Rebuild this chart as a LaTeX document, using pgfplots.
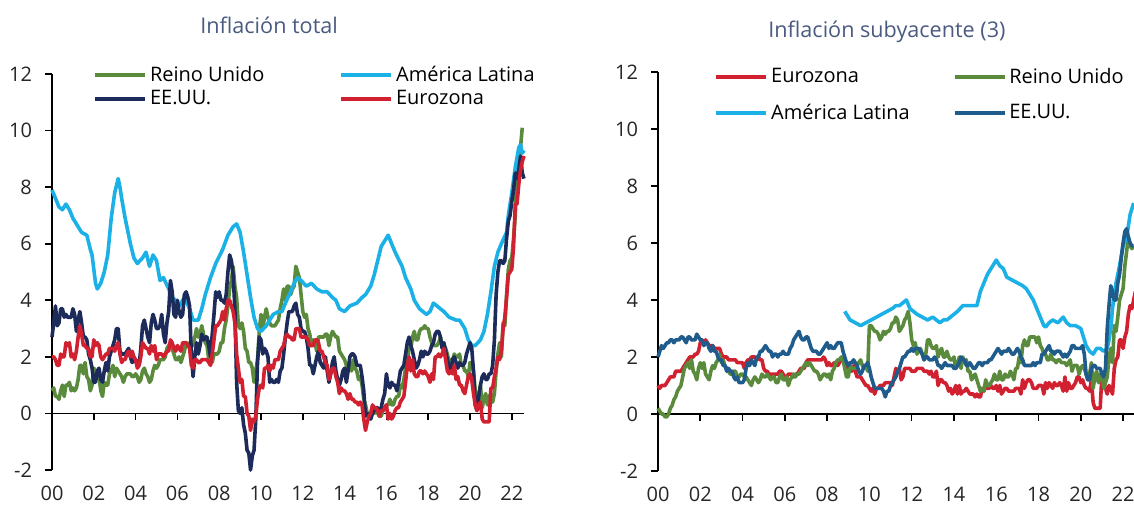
\documentclass[border=0pt]{standalone}
\usepackage{fontspec}
\setmainfont{Open Sans}
\usepackage{pgfplots}
\usepackage{pgfplotstable}
\pgfplotsset{compat=1.18}

\definecolor{cuk}{HTML}{5A8A3C}
\definecolor{cla}{HTML}{1BB0E6}
\definecolor{cusl}{HTML}{1C2B5A}
\definecolor{cusr}{HTML}{1F5B8B}
\definecolor{cez}{HTML}{D12030}
\definecolor{ctitle}{HTML}{4A5A80}

% inflacion total, m = meses desde ene-2000
\pgfplotstableread[row sep=\\]{
m uk us ez\\
0 0.8 2.7 2.0\\ 1 0.9 3.2 2.0\\ 2 0.6 3.8 1.9\\ 3 0.6 3.1 1.7\\ 4 0.5 3.2 1.7\\ 5 0.8 3.7 2.1\\ 6 1.0 3.7 2.0\\ 7 0.6 3.4 2.0\\ 8 1.0 3.5 2.5\\ 9 1.0 3.4 2.4\\ 10 1.1 3.4 2.5\\ 11 0.8 3.4 2.0\\
12 0.9 3.7 2.1\\ 13 0.8 3.5 1.9\\ 14 0.9 2.9 2.2\\ 15 1.2 3.3 2.7\\ 16 1.7 3.6 3.1\\ 17 1.7 3.2 2.8\\ 18 1.4 2.7 2.4\\ 19 1.8 2.7 2.4\\ 20 1.3 2.6 2.3\\ 21 1.2 2.1 2.3\\ 22 0.8 1.9 2.0\\ 23 1.0 1.6 2.0\\
24 1.6 1.1 2.6\\ 25 1.5 1.1 2.4\\ 26 1.5 1.5 2.5\\ 27 1.3 1.6 2.4\\ 28 0.8 1.2 2.0\\ 29 0.6 1.1 1.9\\ 30 1.1 1.5 2.0\\ 31 1.0 1.8 2.1\\ 32 1.0 1.5 2.1\\ 33 1.4 2.0 2.3\\ 34 1.5 2.2 2.3\\ 35 1.7 2.4 2.3\\
36 1.3 2.6 2.2\\ 37 1.6 3.0 2.4\\ 38 1.5 3.0 2.5\\ 39 1.4 2.2 2.1\\ 40 1.3 2.1 1.8\\ 41 1.1 2.1 1.9\\ 42 1.3 2.1 1.9\\ 43 1.4 2.2 2.1\\ 44 1.4 2.3 2.2\\ 45 1.4 2.0 2.0\\ 46 1.3 1.8 2.2\\ 47 1.3 1.9 2.0\\
48 1.4 1.9 1.9\\ 49 1.3 1.7 1.6\\ 50 1.1 1.7 1.7\\ 51 1.2 2.3 2.0\\ 52 1.5 3.1 2.5\\ 53 1.6 3.3 2.4\\ 54 1.4 3.0 2.3\\ 55 1.3 2.7 2.3\\ 56 1.1 2.5 2.1\\ 57 1.2 3.2 2.4\\ 58 1.5 3.5 2.2\\ 59 1.7 3.3 2.4\\
60 1.6 3.0 1.9\\ 61 1.7 3.0 2.1\\ 62 1.9 3.1 2.1\\ 63 1.9 3.5 2.1\\ 64 1.9 2.8 2.0\\ 65 2.0 2.5 2.1\\ 66 2.3 3.2 2.2\\ 67 2.4 3.6 2.2\\ 68 2.5 4.7 2.6\\ 69 2.3 4.3 2.5\\ 70 2.1 3.5 2.3\\ 71 1.9 3.4 2.2\\
72 1.9 4.0 2.4\\ 73 2.0 3.6 2.3\\ 74 1.8 3.4 2.2\\ 75 2.0 3.5 2.5\\ 76 2.2 4.2 2.5\\ 77 2.5 4.3 2.5\\ 78 2.4 4.1 2.4\\ 79 2.5 3.8 2.3\\ 80 2.4 2.1 1.7\\ 81 2.4 1.3 1.6\\ 82 2.7 2.0 1.9\\ 83 3.0 2.5 1.9\\
84 2.7 2.1 1.8\\ 85 2.8 2.4 1.8\\ 86 3.1 2.8 1.9\\ 87 2.8 2.6 1.9\\ 88 2.5 2.7 1.9\\ 89 2.4 2.7 1.9\\ 90 1.9 2.4 1.8\\ 91 1.8 2.0 1.7\\ 92 1.8 2.8 2.1\\ 93 2.1 3.5 2.6\\ 94 2.1 4.3 3.1\\ 95 2.1 4.1 3.1\\
96 2.2 4.3 3.2\\ 97 2.5 4.0 3.3\\ 98 2.5 4.0 3.6\\ 99 3.0 3.9 3.3\\ 100 3.3 4.2 3.7\\ 101 3.8 5.0 4.0\\ 102 4.4 5.6 4.0\\ 103 4.7 5.4 3.8\\ 104 5.2 4.9 3.6\\ 105 4.5 3.7 3.2\\ 106 4.1 1.1 2.1\\ 107 3.1 0.1 1.6\\
108 3.0 0.0 1.1\\ 109 3.2 0.2 1.2\\ 110 2.9 -0.4 0.6\\ 111 2.3 -0.7 0.6\\ 112 2.2 -1.3 0.0\\ 113 1.8 -1.4 -0.1\\ 114 1.8 -2.0 -0.6\\ 115 1.6 -1.5 -0.2\\ 116 1.1 -1.3 -0.3\\ 117 1.5 -0.2 -0.1\\ 118 1.9 1.8 0.5\\ 119 2.9 2.7 0.9\\
120 3.5 2.6 1.0\\ 121 3.0 2.1 0.9\\ 122 3.4 2.3 1.6\\ 123 3.7 2.2 1.6\\ 124 3.4 2.0 1.7\\ 125 3.2 1.1 1.5\\ 126 3.1 1.2 1.7\\ 127 3.1 1.1 1.6\\ 128 3.1 1.1 1.9\\ 129 3.2 1.2 1.9\\ 130 3.3 1.1 1.9\\ 131 3.7 1.5 2.2\\
132 4.0 1.6 2.3\\ 133 4.4 2.1 2.4\\ 134 4.0 2.7 2.7\\ 135 4.5 3.2 2.8\\ 136 4.5 3.6 2.7\\ 137 4.2 3.6 2.7\\ 138 4.4 3.6 2.6\\ 139 4.5 3.8 2.6\\ 140 5.2 3.9 3.0\\ 141 5.0 3.5 3.0\\ 142 4.8 3.4 3.0\\ 143 4.2 3.0 2.7\\
144 3.6 2.9 2.7\\ 145 3.4 2.9 2.7\\ 146 3.5 2.7 2.7\\ 147 3.0 2.3 2.6\\ 148 2.8 1.7 2.4\\ 149 2.4 1.7 2.4\\ 150 2.6 1.4 2.4\\ 151 2.5 1.7 2.6\\ 152 2.2 2.0 2.6\\ 153 2.7 2.2 2.5\\ 154 2.7 1.8 2.2\\ 155 2.7 1.7 2.2\\
156 2.7 1.6 2.0\\ 157 2.8 2.0 1.8\\ 158 2.8 1.5 1.7\\ 159 2.4 1.1 1.2\\ 160 2.7 1.4 1.4\\ 161 2.9 1.8 1.6\\ 162 2.8 2.0 1.6\\ 163 2.7 1.5 1.3\\ 164 2.7 1.2 1.1\\ 165 2.2 1.0 0.7\\ 166 2.1 1.2 0.9\\ 167 2.0 1.5 0.8\\
168 1.9 1.6 0.8\\ 169 1.7 1.1 0.7\\ 170 1.6 1.5 0.5\\ 171 1.8 2.0 0.7\\ 172 1.5 2.1 0.5\\ 173 1.9 2.1 0.5\\ 174 1.6 2.0 0.4\\ 175 1.5 1.7 0.4\\ 176 1.2 1.7 0.3\\ 177 1.3 1.7 0.4\\ 178 1.0 1.3 0.3\\ 179 0.5 0.8 -0.2\\
180 0.3 -0.1 -0.6\\ 181 0.0 0.0 -0.3\\ 182 0.0 -0.1 -0.1\\ 183 -0.1 -0.2 0.0\\ 184 0.1 0.0 0.3\\ 185 0.0 0.1 0.2\\ 186 0.1 0.2 0.2\\ 187 0.0 0.2 0.1\\ 188 -0.1 0.0 -0.1\\ 189 -0.1 0.2 0.1\\ 190 0.1 0.5 0.1\\ 191 0.2 0.7 0.2\\
192 0.3 1.4 0.3\\ 193 0.3 1.0 -0.2\\ 194 0.5 0.9 0.0\\ 195 0.3 1.1 -0.2\\ 196 0.3 1.0 -0.1\\ 197 0.5 1.0 0.1\\ 198 0.6 0.8 0.2\\ 199 0.6 1.1 0.2\\ 200 1.0 1.5 0.4\\ 201 0.9 1.6 0.5\\ 202 1.2 1.7 0.6\\ 203 1.6 2.1 1.1\\
204 1.8 2.5 1.7\\ 205 2.3 2.7 2.0\\ 206 2.3 2.4 1.5\\ 207 2.7 2.2 1.9\\ 208 2.9 1.9 1.4\\ 209 2.6 1.6 1.3\\ 210 2.6 1.7 1.3\\ 211 2.9 1.9 1.5\\ 212 3.0 2.2 1.5\\ 213 3.0 2.0 1.4\\ 214 3.1 2.2 1.5\\ 215 3.0 2.1 1.4\\
216 3.0 2.1 1.3\\ 217 2.7 2.2 1.1\\ 218 2.5 2.4 1.4\\ 219 2.4 2.5 1.2\\ 220 2.4 2.8 2.0\\ 221 2.4 2.9 2.0\\ 222 2.5 2.9 2.1\\ 223 2.7 2.7 2.0\\ 224 2.4 2.3 2.1\\ 225 2.4 2.5 2.3\\ 226 2.3 2.2 1.9\\ 227 2.1 1.9 1.5\\
228 1.8 1.6 1.4\\ 229 1.9 1.5 1.5\\ 230 1.9 1.9 1.4\\ 231 2.1 2.0 1.7\\ 232 2.0 1.8 1.2\\ 233 2.0 1.6 1.3\\ 234 2.1 1.8 1.0\\ 235 1.7 1.7 1.0\\ 236 1.7 1.7 0.8\\ 237 1.5 1.8 0.7\\ 238 1.5 2.1 1.0\\ 239 1.3 2.3 1.3\\
240 1.8 2.5 1.4\\ 241 1.7 2.3 1.2\\ 242 1.5 1.5 0.7\\ 243 0.8 0.3 0.3\\ 244 0.5 0.1 0.1\\ 245 0.6 0.6 0.3\\ 246 1.0 1.0 0.4\\ 247 0.2 1.3 -0.2\\ 248 0.5 1.4 -0.3\\ 249 0.7 1.2 -0.3\\ 250 0.3 1.2 -0.3\\ 251 0.6 1.4 -0.3\\
252 0.7 1.4 0.9\\ 253 0.4 1.7 0.9\\ 254 0.7 2.6 1.3\\ 255 1.5 4.2 1.6\\ 256 2.1 5.0 2.0\\ 257 2.5 5.4 1.9\\ 258 2.0 5.4 2.2\\ 259 3.2 5.3 3.0\\ 260 3.1 5.4 3.4\\ 261 4.2 6.2 4.1\\ 262 5.1 6.8 4.9\\ 263 5.4 7.0 5.0\\
264 5.5 7.5 5.1\\ 265 6.2 7.9 5.9\\ 266 7.0 8.5 7.4\\ 267 9.0 8.3 7.4\\ 268 9.1 8.6 8.1\\ 269 9.4 9.1 8.6\\ 270 10.1 8.5 8.9\\ 271 nan 8.3 9.1\\
}\total

% inflacion subyacente
\pgfplotstableread[row sep=\\]{
m ez uk us\\
0 1.0 0.2 2.0\\ 1 0.9 0.1 2.2\\ 2 1.0 0.0 2.4\\ 3 1.0 0.0 2.3\\ 4 1.0 -0.1 2.4\\ 5 1.1 -0.1 2.5\\ 6 1.2 0.0 2.5\\ 7 1.3 0.2 2.6\\ 8 1.3 0.3 2.6\\ 9 1.3 0.5 2.5\\ 10 1.5 0.6 2.6\\ 11 1.5 0.8 2.6\\
12 1.5 0.9 2.6\\ 13 1.5 1.0 2.7\\ 14 1.6 1.3 2.7\\ 15 1.7 1.6 2.6\\ 16 1.8 1.7 2.5\\ 17 1.9 1.8 2.7\\ 18 2.0 1.6 2.7\\ 19 2.0 1.9 2.6\\ 20 2.0 1.5 2.6\\ 21 2.1 1.4 2.6\\ 22 2.1 1.2 2.8\\ 23 2.2 1.6 2.7\\
24 2.5 1.8 2.6\\ 25 2.6 1.6 2.6\\ 26 2.5 1.8 2.4\\ 27 2.6 1.4 2.5\\ 28 2.5 1.3 2.5\\ 29 2.4 1.2 2.3\\ 30 2.4 1.5 2.2\\ 31 2.4 1.7 2.4\\ 32 2.3 1.6 2.2\\ 33 2.3 1.8 2.2\\ 34 2.3 1.9 2.0\\ 35 2.3 2.1 1.9\\
36 2.1 1.8 1.9\\ 37 2.0 1.9 1.7\\ 38 2.0 1.7 1.7\\ 39 2.0 1.6 1.5\\ 40 1.9 1.5 1.6\\ 41 1.9 1.4 1.5\\ 42 1.9 1.4 1.5\\ 43 1.9 1.5 1.3\\ 44 1.9 1.5 1.2\\ 45 1.8 1.3 1.3\\ 46 1.8 1.3 1.1\\ 47 1.8 1.4 1.1\\
48 1.8 1.4 1.1\\ 49 1.6 1.3 1.2\\ 50 1.8 1.3 1.6\\ 51 1.9 1.2 1.8\\ 52 1.9 1.1 1.7\\ 53 2.0 1.0 1.9\\ 54 2.0 1.2 1.8\\ 55 2.0 1.3 1.7\\ 56 1.9 1.2 2.0\\ 57 2.0 1.1 2.0\\ 58 1.9 1.2 2.2\\ 59 1.9 1.4 2.2\\
60 1.6 1.3 2.3\\ 61 1.5 1.3 2.4\\ 62 1.5 1.4 2.3\\ 63 1.4 1.3 2.2\\ 64 1.4 1.2 2.2\\ 65 1.4 1.3 2.0\\ 66 1.4 1.3 2.1\\ 67 1.4 1.1 2.1\\ 68 1.4 1.1 2.0\\ 69 1.5 1.3 2.1\\ 70 1.5 1.4 2.1\\ 71 1.4 1.2 2.2\\
72 1.3 1.2 2.1\\ 73 1.3 1.3 2.1\\ 74 1.4 1.0 2.1\\ 75 1.4 1.2 2.3\\ 76 1.4 1.3 2.4\\ 77 1.3 1.4 2.6\\ 78 1.4 1.3 2.7\\ 79 1.4 1.4 2.8\\ 80 1.5 1.4 2.9\\ 81 1.6 1.5 2.7\\ 82 1.6 1.6 2.6\\ 83 1.6 1.7 2.6\\
84 1.8 1.8 2.7\\ 85 1.9 1.7 2.7\\ 86 1.9 1.8 2.5\\ 87 1.9 1.7 2.3\\ 88 1.9 1.6 2.2\\ 89 1.9 1.5 2.2\\ 90 1.9 1.5 2.2\\ 91 1.9 1.4 2.1\\ 92 1.9 1.2 2.1\\ 93 1.9 1.3 2.2\\ 94 2.0 1.4 2.3\\ 95 1.9 1.4 2.4\\
96 1.7 1.3 2.5\\ 97 1.8 1.4 2.3\\ 98 1.7 1.2 2.4\\ 99 1.7 1.5 2.3\\ 100 1.8 1.6 2.3\\ 101 1.8 1.8 2.4\\ 102 1.7 1.9 2.5\\ 103 1.8 1.9 2.5\\ 104 1.9 2.0 2.5\\ 105 1.9 1.9 2.2\\ 106 1.8 1.6 2.0\\ 107 1.8 1.3 1.8\\
108 1.6 1.3 1.7\\ 109 1.7 1.7 1.8\\ 110 1.5 1.6 1.8\\ 111 1.7 1.6 1.9\\ 112 1.5 1.6 1.8\\ 113 1.3 1.7 1.7\\ 114 1.3 1.8 1.5\\ 115 1.3 1.9 1.4\\ 116 1.2 1.7 1.5\\ 117 1.1 1.6 1.7\\ 118 1.0 1.7 1.7\\ 119 1.0 1.5 1.8\\
120 0.9 3.1 1.6\\ 121 0.8 3.1 1.3\\ 122 0.9 3.0 1.1\\ 123 0.7 2.9 0.9\\ 124 0.9 2.9 0.9\\ 125 0.9 2.8 0.9\\ 126 1.0 2.6 0.9\\ 127 1.0 2.7 0.9\\ 128 1.0 2.9 0.8\\ 129 1.1 2.8 0.6\\ 130 1.1 2.9 0.8\\ 131 1.1 2.9 0.8\\
132 1.1 3.0 1.0\\ 133 1.0 3.2 1.1\\ 134 1.3 3.2 1.2\\ 135 1.6 3.4 1.3\\ 136 1.5 3.3 1.5\\ 137 1.6 2.9 1.6\\ 138 1.2 3.0 1.8\\ 139 1.3 3.1 2.0\\ 140 1.6 3.3 2.0\\ 141 1.6 3.4 2.1\\ 142 1.6 3.6 2.2\\ 143 1.6 3.2 2.2\\
144 1.5 2.6 2.3\\ 145 1.5 2.4 2.2\\ 146 1.5 2.5 2.3\\ 147 1.6 2.1 2.3\\ 148 1.6 2.2 2.3\\ 149 1.6 2.3 2.2\\ 150 1.6 2.1 2.1\\ 151 1.5 1.9 1.9\\ 152 1.5 2.1 2.0\\ 153 1.5 2.6 2.0\\ 154 1.4 2.6 1.9\\ 155 1.5 2.4 1.9\\
156 1.3 2.3 1.9\\ 157 1.3 2.3 2.0\\ 158 1.5 2.4 1.9\\ 159 1.0 2.0 1.7\\ 160 1.2 2.2 1.7\\ 161 1.2 2.3 1.6\\ 162 1.1 2.0 1.7\\ 163 1.1 2.0 1.8\\ 164 1.0 2.2 1.7\\ 165 0.8 2.0 1.7\\ 166 0.9 1.9 1.7\\ 167 0.7 1.9 1.7\\
168 0.8 2.0 1.6\\ 169 1.0 1.6 1.6\\ 170 0.7 1.7 1.7\\ 171 1.0 2.0 1.8\\ 172 0.7 1.6 2.0\\ 173 0.8 2.0 1.9\\ 174 0.8 1.8 1.9\\ 175 0.9 1.9 1.7\\ 176 0.8 1.5 1.7\\ 177 0.7 1.5 1.8\\ 178 0.7 1.2 1.7\\ 179 0.7 1.3 1.6\\
180 0.6 1.4 1.6\\ 181 0.7 1.2 1.7\\ 182 0.6 1.0 1.8\\ 183 0.6 0.8 1.8\\ 184 0.9 0.9 1.7\\ 185 0.8 0.8 1.8\\ 186 1.0 1.2 1.8\\ 187 0.9 1.0 1.8\\ 188 0.9 1.0 1.9\\ 189 1.0 1.1 1.9\\ 190 0.9 1.2 2.0\\ 191 0.9 1.4 2.1\\
192 1.0 1.2 2.2\\ 193 0.8 1.2 2.3\\ 194 1.0 1.5 2.2\\ 195 0.7 1.2 2.1\\ 196 0.8 1.2 2.2\\ 197 0.9 1.4 2.2\\ 198 0.9 1.3 2.2\\ 199 0.8 1.3 2.3\\ 200 0.8 1.5 2.2\\ 201 0.8 1.4 2.1\\ 202 0.8 1.2 2.1\\ 203 0.9 1.6 2.2\\
204 0.9 1.6 2.3\\ 205 0.9 2.0 2.2\\ 206 0.7 1.8 2.0\\ 207 1.2 2.4 1.9\\ 208 0.9 2.6 1.7\\ 209 1.1 2.4 1.7\\ 210 1.2 2.4 1.7\\ 211 1.2 2.7 1.7\\ 212 1.1 2.7 1.7\\ 213 0.9 2.7 1.8\\ 214 0.9 2.7 1.7\\ 215 0.9 2.5 1.8\\
216 1.0 2.7 1.8\\ 217 1.0 2.4 1.8\\ 218 1.0 2.3 2.1\\ 219 0.7 2.1 2.1\\ 220 1.1 2.1 2.2\\ 221 0.9 1.9 2.3\\ 222 1.1 1.9 2.4\\ 223 1.0 2.1 2.2\\ 224 0.9 1.9 2.2\\ 225 1.1 1.9 2.1\\ 226 1.0 1.8 2.2\\ 227 1.0 1.9 2.2\\
228 1.1 1.9 2.2\\ 229 1.0 1.8 2.1\\ 230 0.8 1.8 2.0\\ 231 1.3 1.8 2.1\\ 232 0.8 1.7 2.0\\ 233 1.1 1.8 2.1\\ 234 0.9 1.9 2.2\\ 235 0.9 1.5 2.4\\ 236 1.0 1.7 2.4\\ 237 1.1 1.7 2.3\\ 238 1.3 1.7 2.3\\ 239 1.3 1.4 2.3\\
240 1.1 1.6 2.3\\ 241 1.2 1.7 2.4\\ 242 1.0 1.6 2.1\\ 243 0.9 1.4 1.4\\ 244 0.9 1.2 1.2\\ 245 0.8 1.4 1.2\\ 246 1.2 1.8 1.6\\ 247 0.4 0.9 1.7\\ 248 0.2 1.3 1.7\\ 249 0.2 1.5 1.6\\ 250 0.2 1.1 1.6\\ 251 0.2 1.4 1.6\\
252 1.4 1.4 1.4\\ 253 1.1 0.9 1.3\\ 254 0.9 1.1 1.6\\ 255 0.7 1.3 3.0\\ 256 1.0 2.0 3.8\\ 257 0.9 2.3 4.5\\ 258 0.7 1.8 4.3\\ 259 1.6 3.1 4.0\\ 260 1.9 2.9 4.0\\ 261 2.0 3.4 4.6\\ 262 2.6 4.0 4.9\\ 263 2.6 4.2 5.5\\
264 2.3 4.4 6.0\\ 265 2.7 5.2 6.4\\ 266 2.9 5.7 6.5\\ 267 3.5 6.2 6.2\\ 268 3.8 5.9 6.0\\ 269 3.7 5.8 5.9\\ 270 4.0 5.9 5.9\\ 271 4.3 nan nan\\
}\sub

\pgfplotsset{
  panel/.style={
    scale only axis,
    axis y line=left, axis x line=middle,
    axis line style={-, line width=0.8pt},
    xmin=0, ymin=-2, ymax=12,
    ytick={-2,0,...,12},
    xtick={0,24,...,264},
    xticklabels={00,02,04,06,08,10,12,14,16,18,20,22},
    hide obscured x ticks=false,
    tick align=outside, major tick length=3.5pt,
    tick style={line width=0.8pt, black},
    tick label style={font=\fontsize{10}{12}\selectfont, text=black!85},
    /pgf/number format/assume math mode=true,
    xticklabel style={yshift=-29.5pt},
    yticklabel style={xshift=-3pt},
    clip=false,
    unbounded coords=jump,
    legend columns=2,
    legend cell align=left,
    legend image code/.code={\draw[##1] (0pt,0pt) -- (25pt,0pt);},
    every axis plot/.append style={line width=1.8pt, line join=round},
  },
}

\begin{document}
\begin{tikzpicture}
\path[use as bounding box] (0,0) rectangle (567pt,253pt);

\begin{axis}[panel,
  at={(26pt,18pt)}, anchor=south west,
  width=236pt, height=198pt, xmax=271,
  legend style={draw=none, fill=none, font=\fontsize{10}{12}\selectfont,
    inner sep=0pt, row sep=0pt,
    at={(axis description cs:0.087,0.968)}, anchor=west,
    nodes={inner sep=1.5pt},
    /tikz/every even column/.append style={column sep=36pt}},
]
\addplot[cuk] table[x=m, y=uk] {\total};
\addlegendentry{Reino Unido}
\addplot[cla] coordinates {
(0,7.9)(2,7.6)(4,7.3)(6,7.2)(8,7.4)(10,7.2)(12,6.9)(15,6.6)(17,6.4)(20,6.3)
(22,5.8)(23,5.6)(25,4.6)(26,4.4)(28,4.6)(30,5.0)(32,5.6)(34,6.9)(36,7.8)(38,8.3)
(39,8.0)(40,7.6)(42,6.9)(45,6.0)(47,5.5)(49,5.3)(52,5.5)(54,5.7)(56,5.2)(58,5.6)
(60,5.4)(62,4.7)(64,4.8)(67,4.4)(69,4.1)(71,4.0)(73,3.8)(76,4.1)(79,3.7)(81,3.3)
(84,3.3)(86,3.7)(88,4.2)(91,4.8)(94,5.3)(98,5.8)(101,6.3)(104,6.6)(106,6.7)(108,6.4)
(110,5.7)(112,4.9)(114,4.1)(116,3.4)(118,3.0)(120,2.9)(123,3.1)(125,3.3)(127,3.5)(130,3.6)
(132,3.6)(134,3.9)(137,4.3)(139,4.6)(141,4.8)(143,4.7)(146,4.5)(149,4.6)(152,4.4)(155,4.3)
(158,4.3)(161,4.1)(163,4.0)(165,3.7)(168,3.6)(171,3.8)(175,3.9)(178,4.1)(180,4.2)(183,4.5)
(185,4.9)(187,5.4)(189,5.9)(192,6.2)(193,6.3)(195,6.0)(197,5.7)(201,5.2)(203,4.8)(206,4.4)
(208,4.0)(211,3.7)(215,3.5)(217,3.6)(219,3.9)(221,3.8)(225,3.6)(228,3.4)(232,3.3)(234,3.3)
(237,3.0)(239,2.6)(241,2.4)(243,2.4)(246,2.6)(248,2.9)(250,3.5)(252,4.3)(254,5.2)(256,5.7)
(258,6.0)(261,6.4)(262,7.0)(264,7.8)(266,8.7)(268,9.4)(269,9.5)(270,9.2)(271,9.3)
};
\addlegendentry{América Latina}
\addplot[cusl] table[x=m, y=us] {\total};
\addlegendentry{EE.UU.}
\addplot[cez] table[x=m, y=ez] {\total};
\addlegendentry{Eurozona}
\node[font=\fontsize{10.8}{13}\selectfont, text=ctitle]
  at (axis description cs:0.46,1.124) {Inflación total};
\end{axis}

\begin{axis}[panel,
  at={(329pt,17.5pt)}, anchor=south west,
  width=238pt, height=199.5pt, xmax=270.2,
  legend style={draw=none, fill=none, font=\fontsize{10}{12}\selectfont,
    inner sep=0pt, row sep=6pt,
    at={(axis description cs:0.118,0.942)}, anchor=west,
    nodes={inner sep=1.5pt},
    /tikz/every even column/.append style={column sep=20pt}},
]
\addplot[cez] table[x=m, y=ez] {\sub};
\addlegendentry{Eurozona}
\addplot[cuk] table[x=m, y=uk] {\sub};
\addlegendentry{Reino Unido}
\addplot[cla] coordinates {
(106,3.6)(109,3.3)(112,3.2)(115,3.1)(118,3.2)(121,3.3)(124,3.4)(127,3.5)(130,3.6)(133,3.7)
(135,3.8)(137,3.8)(139,3.9)(141,4.0)(143,3.7)(145,3.6)(147,3.5)(150,3.4)(153,3.3)(156,3.4)
(158,3.3)(160,3.2)(162,3.3)(164,3.3)(166,3.4)(168,3.5)(170,3.6)(173,3.8)(177,3.8)(181,3.8)
(183,4.3)(185,4.6)(187,4.9)(189,5.1)(191,5.3)(192,5.4)(194,5.2)(196,5.1)(198,4.8)(201,4.7)
(204,4.6)(207,4.5)(209,4.4)(211,4.2)(213,4.0)(215,3.7)(217,3.4)(219,3.1)(220,3.05)(222,3.2)
(224,3.3)(227,3.2)(230,3.4)(232,3.2)(234,3.1)(237,3.1)(240,3.0)(242,2.6)(243,2.4)(245,2.2)
(247,2.1)(249,2.3)(251,2.3)(253,2.2)(255,2.3)(256,2.6)(257,3.0)(258,3.7)(259,4.2)(260,4.6)
(262,5.2)(264,5.9)(266,6.2)(268,7.0)(270,7.4)
};
\addlegendentry{América Latina}
\addplot[cusr] table[x=m, y=us] {\sub};
\addlegendentry{EE.UU.}
\node[font=\fontsize{10.8}{13}\selectfont, text=ctitle]
  at (axis description cs:0.481,1.100) {Inflación subyacente (3)};
\end{axis}
\end{tikzpicture}
\end{document}
